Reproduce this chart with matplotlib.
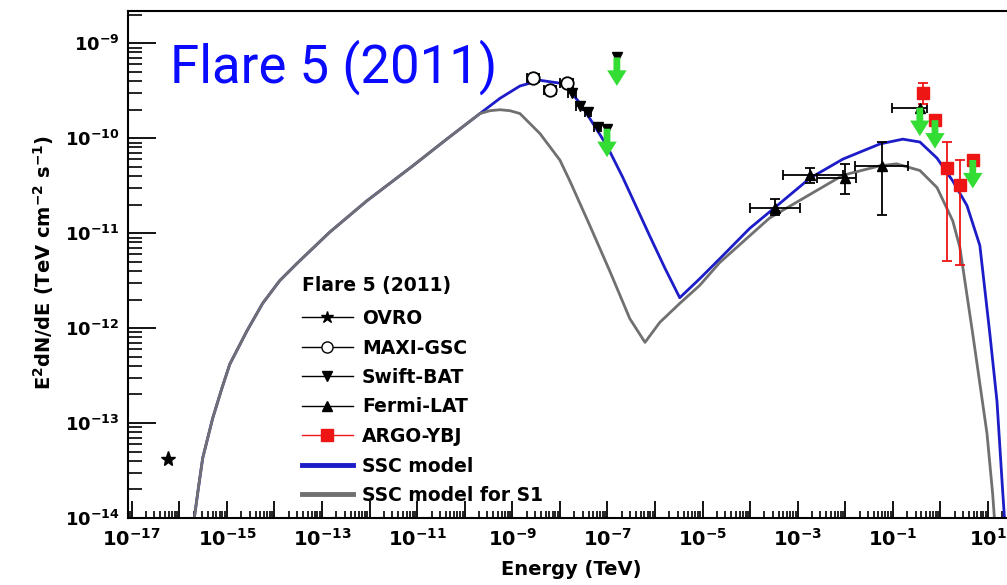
import numpy as np
import matplotlib
matplotlib.use("Agg")
import matplotlib.pyplot as plt
from matplotlib.lines import Line2D

# ---- data ----
ovro_e = [5.7e-17]
ovro_f = [4.2e-14]

maxi_e = [2.7e-9, 6.2e-9, 1.4e-8]
maxi_e_lo = [2.0e-9, 4.6e-9, 1.0e-8]
maxi_e_hi = [3.6e-9, 8.4e-9, 1.9e-8]
maxi_f = [4.3e-10, 3.2e-10, 3.8e-10]

swift_e = [1.8e-8, 2.6e-8, 3.9e-8, 6.3e-8]
swift_e_lo = [1.5e-8, 2.2e-8, 3.3e-8, 5.3e-8]
swift_e_hi = [2.2e-8, 3.1e-8, 4.6e-8, 7.5e-8]
swift_f = [2.97e-10, 2.2e-10, 1.87e-10, 1.3e-10]
swift_ul_e = [1.58e-7, 9.8e-8]
swift_ul_f = [7.1e-10, 1.26e-10]

fermi_e = [3.3e-4, 1.8e-3, 9.8e-3, 0.059]
fermi_e_lo = [1.0e-4, 4.9e-4, 2.5e-3, 0.016]
fermi_e_hi = [1.1e-3, 8.9e-3, 1.7e-2, 0.21]
fermi_f = [1.86e-11, 4.07e-11, 3.8e-11, 5.1e-11]
fermi_f_lo = [1.55e-11, 3.4e-11, 2.6e-11, 1.55e-11]
fermi_f_hi = [2.3e-11, 4.8e-11, 5.4e-11, 9.1e-11]
fermi_ul_e = [0.37]
fermi_ul_e_lo = [0.095]
fermi_ul_e_hi = [0.52]
fermi_ul_f = [2.1e-10]

argo_e = [0.43, 1.37, 2.57]
argo_f = [2.97e-10, 4.9e-11, 3.2e-11]
argo_f_lo = [2.3e-10, 5.1e-12, 4.6e-12]
argo_f_hi = [3.8e-10, 9.1e-11, 5.9e-11]
argo_ul_e = [0.77, 4.8]
argo_ul_f = [1.55e-10, 5.9e-11]

# shared synchrotron rise (log10 E, log10 E^2dN/dE)
rise_log_e = [-15.74, -15.61, -15.51, -15.40, -15.30, -15.11, -14.94, -14.58,
              -14.25, -13.89, -13.53, -12.84, -12.06, -11.09, -10.38, -9.68]
rise_log_f = [-14.20, -13.72, -13.37, -13.15, -12.95, -12.64, -12.38, -12.03,
              -11.74, -11.50, -11.32, -10.99, -10.66, -10.29, -10.01, -9.74]

ssc_log_e = [-9.26, -8.84, -8.42, -8.00, -7.79, -7.58, -7.31, -7.01, -6.68,
             -6.11, -5.79, -5.48, -5.06, -4.64, -4.01, -3.48, -2.74, -2.05,
             -1.27, -0.79, -0.43, -0.07, 0.26, 0.56, 0.83, 1.04, 1.19, 1.31, 1.38]
ssc_log_f = [-9.58, -9.45, -9.39, -9.42, -9.50, -9.63, -9.84, -10.08, -10.41,
             -11.03, -11.37, -11.68, -11.48, -11.27, -10.95, -10.73, -10.42, -10.22,
             -10.06, -10.01, -10.04, -10.21, -10.45, -10.71, -11.13, -12.06, -12.77,
             -13.72, -14.24]

s1_log_e = [-9.47, -9.26, -9.05, -8.84, -8.42, -8.00, -7.79, -7.37, -6.95,
            -6.53, -6.21, -5.90, -5.48, -5.06, -4.64, -3.59, -2.05, -1.27,
            -0.92, -0.43, -0.07, 0.26, 0.41, 0.68, 0.98, 1.10, 1.17]
s1_log_f = [-9.71, -9.70, -9.71, -9.74, -9.95, -10.23, -10.45, -10.92, -11.40,
            -11.90, -12.15, -11.94, -11.74, -11.55, -11.31, -10.84, -10.39, -10.29,
            -10.27, -10.34, -10.52, -10.87, -11.15, -12.06, -13.11, -13.75, -14.24]

x_decades = np.arange(-17, 2)

BLUE = "#1c1cc8"
GRAY = "#707070"
RED = "#ee1515"
GREEN = "#33dd33"
ARROW_DECADES = 0.30

plt.rcParams.update({"font.family": "DejaVu Sans", "font.weight": "bold",
                     "mathtext.fontset": "dejavusans", "mathtext.default": "bf"})

fig = plt.figure(figsize=(10.07, 5.85), dpi=100)
ax = fig.add_axes([128 / 1007, 67 / 585, 888 / 1007, 507 / 585])
ax.set_xscale("log")
ax.set_yscale("log")
ax.set_xlim(10 ** -17.08, 10 ** 1.59)
ax.set_ylim(1e-14, 10 ** -8.66)

# model curves
rise_e = 10 ** np.array(rise_log_e)
rise_f = 10 ** np.array(rise_log_f)
ax.plot(np.r_[rise_e, 10 ** np.array(ssc_log_e)], np.r_[rise_f, 10 ** np.array(ssc_log_f)],
        color=BLUE, lw=2.0, zorder=2, solid_joinstyle="round")
ax.plot(np.r_[rise_e, 10 ** np.array(s1_log_e)], np.r_[rise_f, 10 ** np.array(s1_log_f)],
        color=GRAY, lw=2.0, zorder=2, solid_joinstyle="round")

# data points
ebar = dict(capsize=3.5, elinewidth=1.3, capthick=1.3, ls="none", zorder=4)
ax.plot(ovro_e, ovro_f, "k*", ms=11, zorder=4)
ax.errorbar(maxi_e, maxi_f,
            xerr=[np.subtract(maxi_e, maxi_e_lo), np.subtract(maxi_e_hi, maxi_e)],
            fmt="o", mfc="white", mec="k", color="k", ms=9, mew=1.3, **ebar)
ax.errorbar(swift_e, swift_f,
            xerr=[np.subtract(swift_e, swift_e_lo), np.subtract(swift_e_hi, swift_e)],
            fmt="v", color="k", ms=7, **ebar)
ax.plot(swift_ul_e, swift_ul_f, "kv", ms=7, zorder=4)
ax.errorbar(fermi_e, fermi_f,
            xerr=[np.subtract(fermi_e, fermi_e_lo), np.subtract(fermi_e_hi, fermi_e)],
            yerr=[np.subtract(fermi_f, fermi_f_lo), np.subtract(fermi_f_hi, fermi_f)],
            fmt="^", color="k", ms=7, **ebar)
ax.errorbar(fermi_ul_e, fermi_ul_f,
            xerr=[np.subtract(fermi_ul_e, fermi_ul_e_lo), np.subtract(fermi_ul_e_hi, fermi_ul_e)],
            fmt="^", color="k", ms=7, **ebar)
ax.errorbar(argo_e, argo_f,
            yerr=[np.subtract(argo_f, argo_f_lo), np.subtract(argo_f_hi, argo_f)],
            fmt="s", color=RED, ms=8, **ebar)
ax.plot(argo_ul_e, argo_ul_f, "s", color=RED, ms=8, zorder=4)

# upper-limit arrows
for e, f in zip(swift_ul_e + fermi_ul_e + argo_ul_e, swift_ul_f + fermi_ul_f + argo_ul_f):
    ax.annotate("", xy=(e, f * 10 ** -ARROW_DECADES), xytext=(e, f),
                arrowprops=dict(arrowstyle="simple,head_width=1.0,head_length=0.8,tail_width=0.35",
                                color=GREEN, lw=0, shrinkA=0, shrinkB=0, mutation_scale=14),
                zorder=5)

# axes styling
ax.set_xticks(10.0 ** x_decades)
ax.set_xticklabels([f"$10^{{{d}}}$" if d % 2 else "" for d in x_decades])
ax.xaxis.set_minor_locator(matplotlib.ticker.LogLocator(base=10, subs=np.arange(2, 10), numticks=100))
ax.xaxis.set_minor_formatter(matplotlib.ticker.NullFormatter())
ax.yaxis.set_major_locator(matplotlib.ticker.LogLocator(base=10, numticks=20))
ax.yaxis.set_minor_locator(matplotlib.ticker.LogLocator(base=10, subs=np.arange(2, 10), numticks=20))
ax.yaxis.set_minor_formatter(matplotlib.ticker.NullFormatter())
ax.tick_params(axis="x", which="major", direction="in", length=12, width=1.3, labelsize=14, pad=7)
ax.tick_params(axis="x", which="minor", direction="in", length=5, width=1.2)
ax.tick_params(axis="y", which="major", direction="in", length=20, width=1.3, labelsize=13, pad=6)
ax.tick_params(axis="y", which="minor", direction="in", length=10, width=1.2)
for sp in ax.spines.values():
    sp.set_linewidth(1.5)

ax.set_xlabel("Energy (TeV)", fontsize=14, fontweight="bold")
ax.xaxis.set_label_coords((571 - 128) / 888, (518 - 560) / 507)
ax.set_ylabel(r"$E^{2}dN/dE\ (TeV\ cm^{-2}\ s^{-1})$", fontsize=14)
ax.yaxis.set_label_coords((56 - 128) / 888, (518 - 262) / 507)

# legend
handles = [
    Line2D([], [], color="k", lw=1, marker="*", ms=9),
    Line2D([], [], color="k", lw=1, marker="o", mfc="white", ms=8),
    Line2D([], [], color="k", lw=1, marker="v", ms=7),
    Line2D([], [], color="k", lw=1, marker="^", ms=7),
    Line2D([], [], color=RED, lw=1, marker="s", ms=8),
    Line2D([], [], color=BLUE, lw=3.5),
    Line2D([], [], color=GRAY, lw=3.5),
]
labels = ["OVRO", "MAXI-GSC", "Swift-BAT", "Fermi-LAT", "ARGO-YBJ", "SSC model", "SSC model for S1"]
ax.legend(handles, labels, loc="upper left", bbox_to_anchor=(302 / 1007, 1 - 309 / 585),
          bbox_transform=fig.transFigure, frameon=False, fontsize=13.5,
          handlelength=2.7, handletextpad=0.5, labelspacing=0.56,
          borderpad=0, borderaxespad=0)
fig.text(302 / 1007, 1 - 285 / 585, "Flare 5 (2011)", fontsize=13.5, fontweight="bold", va="center")

fig.text(170 / 1007, 1 - 83 / 585, "Flare 5 (2011)", fontfamily="Roboto", fontweight="normal",
         fontsize=38, color="#0a0aff", va="baseline")

fig.savefig("out.png", dpi=100)
